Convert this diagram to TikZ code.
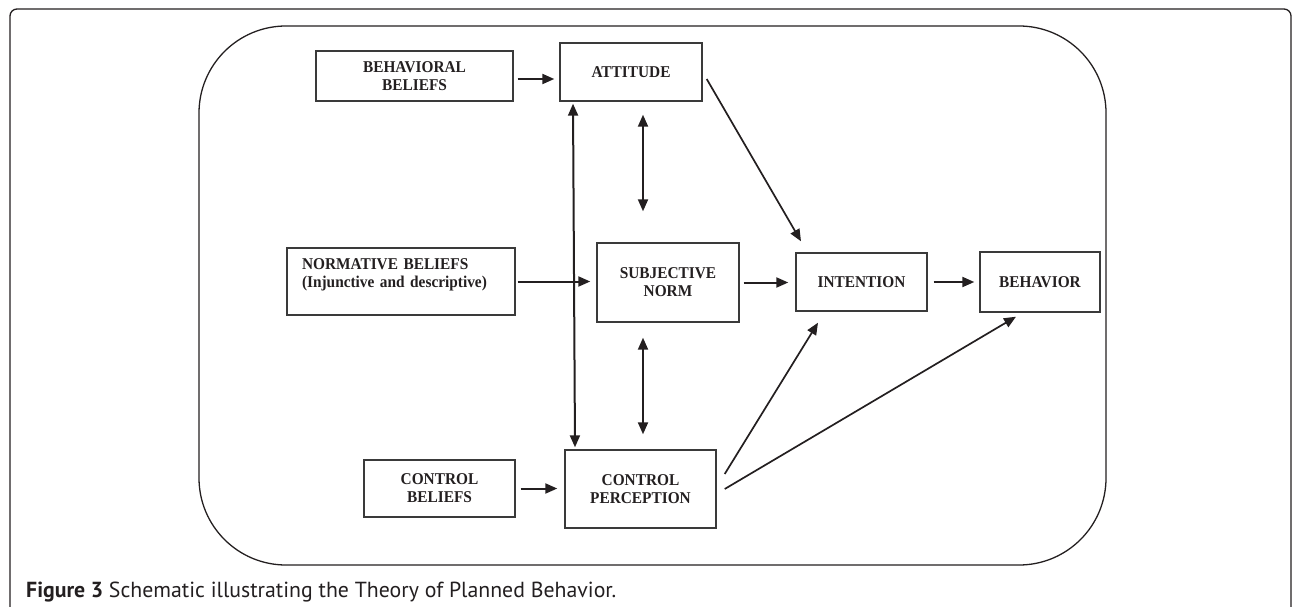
\documentclass[tikz,border=0pt]{standalone}
\usepackage{fontspec}
\usepackage{graphicx}
\setmainfont{Liberation Serif}
\newfontfamily\boxfont[FakeStretch=0.93]{Liberation Serif}
\newfontfamily\capfont{PT Sans}
\usetikzlibrary{arrows.meta,calc}
\definecolor{ink}{HTML}{231F20}
\definecolor{edge}{HTML}{3A3A3A}
\begin{document}
\begin{tikzpicture}[x=1pt,y=-1pt,
  box/.style={draw=edge, line width=1.4pt, rectangle, inner sep=0pt, align=center,
    font=\boxfont\fontsize{16.5}{18}\selectfont\bfseries, text=ink},
  tip/.tip={Triangle[length=12pt,width=10pt]},
  arr/.style={draw=ink, line width=2pt, -{tip}},
  darr/.style={draw=ink, line width=2pt, {tip}-{tip}},
  diag/.style={draw=ink, line width=1.7pt, -{tip}},
  frame/.style={draw=ink, line width=1.3pt}
]
\useasboundingbox (0,0) rectangle (1292,607);
\clip (0,0) rectangle (1292,607);
% outer figure frame
\draw[frame, rounded corners=7pt] (10,640) -- (10,9) -- (1291,9) -- (1291,640);
% inner rounded frame
\draw[frame, rounded corners=87pt] (199,26) rectangle (1106,565);

% boxes
\node[box, minimum width=197pt, minimum height=50pt] (bb) at (414.5,76) {BEHAVIORAL\\BELIEFS};
\node[box, minimum width=142pt, minimum height=58pt] (att) at (631,72) {ATTITUDE};
\node[box, minimum width=228pt, minimum height=67pt, inner xsep=15pt, text width=198pt, align=left] (nb) at (401,281.5)
  {NORMATIVE BELIEFS\\(Injunctive and descriptive)\\[-2pt]\mbox{}};
\node[box, minimum width=142pt, minimum height=79pt] (sn) at (668,282.5) {SUBJECTIVE\\NORM};
\node[box, minimum width=131pt, minimum height=58pt] (int) at (861.5,282) {INTENTION};
\node[box, minimum width=120pt, minimum height=60pt] (beh) at (1040,282) {BEHAVIOR};
\node[box, minimum width=151pt, minimum height=57pt] (cb) at (439.5,488.5) {CONTROL\\BELIEFS};
\node[box, minimum width=151pt, minimum height=78pt] (cp) at (640.5,489) {CONTROL\\PERCEPTION};

% connectors
\draw[arr] ($(bb.east)+(4,3)$) -- ($(att.west|-bb.east)+(-5,3)$);
\draw[arr, shorten <=2pt, shorten >=6pt] (nb.east) -- (nb.east -| sn.west);
\draw[arr, shorten <=4pt, shorten >=7pt] (sn.east) -- (sn.east -| int.west);
\draw[arr, shorten <=6pt, shorten >=5pt] (int.east) -- (int.east -| beh.west);
\draw[arr, shorten <=5pt, shorten >=7pt] (cb.east) -- (cb.east -| cp.west);
\draw[darr] ($(att.south)+(12,13)$) -- ($(sn.north)+(-25,-31)$);
\draw[darr] ($(sn.south)+(-25,15)$) -- ($(cp.north)+(2.5,-15)$);
\draw[darr] ($(att.south)+(-58,2)$) -- ($(cp.north)+(-65.5,-2)$);
\draw[diag] ($(att.east)+(4,7)$) -- ($(int.north)+(-60.5,-11)$);
\draw[diag] ($(cp.east)+(8,-15)$) -- ($(int.south)+(-43.5,11)$);
\draw[diag] ($(cp.east)+(8,0)$) -- ($(beh.south)+(-24,4)$);

% caption
\node[anchor=base west, inner sep=0pt, text=ink] (cap) at (26,597)
  {\resizebox{590pt}{!}{\capfont\fontsize{17}{20}\selectfont\textbf{Figure 3} Schematic illustrating the Theory of Planned Behavior.}};
\end{tikzpicture}
\end{document}
